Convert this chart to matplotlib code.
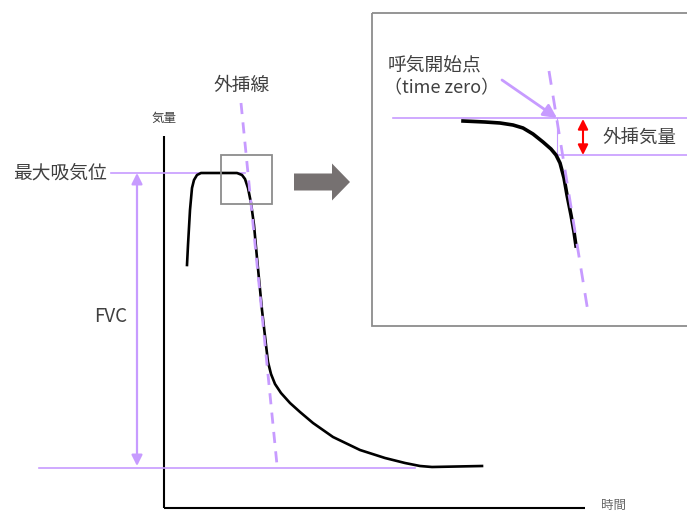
import matplotlib
matplotlib.use("Agg")
import matplotlib.pyplot as plt
from matplotlib.patches import Rectangle, FancyArrow

plt.rcParams['font.family'] = ['Noto Sans CJK JP', 'DejaVu Sans']

# Main spirogram curve (pixel coordinates)
curve_x = [187, 188, 190, 192, 194, 197, 201, 237, 242, 245, 248, 251, 254, 257, 262, 266, 268, 271, 275, 281, 290, 300, 313, 333, 360, 385, 405, 420, 432, 482]
curve_y = [265, 245, 210, 188, 180, 175, 173, 173, 175, 179, 188, 203, 225, 258, 310, 345, 362, 374, 384, 393, 403, 412, 423, 437, 450, 458, 463, 466, 467, 466]

# Zoomed inset curve
inset_x = [463, 485, 500, 513, 523, 533, 543, 551, 556, 560, 564, 567, 571, 574, 576]
inset_y = [121, 122, 123, 125, 128, 134, 142, 149, 155, 163, 178, 195, 215, 232, 246]

# Extrapolation lines (start, end)
extrap_main = ([241, 277], [103, 465])
extrap_inset = ([549, 588], [71, 312])

LAV = '#c79bff'
TXT = '#404040'

fig = plt.figure(figsize=(6.87, 5.13), dpi=100)
ax = fig.add_axes([0, 0, 1, 1])
ax.set_xlim(0, 687)
ax.set_ylim(513, 0)
ax.axis('off')

# axes of the diagram
ax.plot([164, 164], [136, 508], color='black', lw=1.5, solid_capstyle='butt')
ax.plot([164, 585], [508, 508], color='black', lw=1.5, solid_capstyle='butt')
ax.text(164, 118, '気量', fontsize=9, color=TXT, ha='center', va='center')
ax.text(613, 505, '時間', fontsize=9, color='#666666', ha='center', va='center')

# reference lines
ax.plot([111, 245], [173, 173], color=LAV, lw=1.2)
ax.plot([39, 415], [468, 468], color=LAV, lw=1.2)
ax.text(60, 173, '最大吸気位', fontsize=13.5, color=TXT, ha='center', va='center')

# FVC arrow
ax.annotate('', xy=(137, 173), xytext=(137, 466),
            arrowprops=dict(arrowstyle='<|-|>', color=LAV, lw=1.6,
                            mutation_scale=16, shrinkA=0, shrinkB=0))
ax.text(111, 316, 'FVC', fontsize=13.5, color=TXT, ha='center', va='center')

# curve
ax.plot(curve_x, curve_y, color='black', lw=1.9, solid_joinstyle='round', zorder=3)

# extrapolation dashed line (drawn over the curve)
ax.plot(extrap_main[0], extrap_main[1], color=LAV, lw=2, ls=(0, (4, 3)), zorder=4)
ax.text(242, 85, '外挿線', fontsize=13.5, color=TXT, ha='center', va='center')

# small gray box
ax.add_patch(Rectangle((221, 155), 51, 49, fill=False, edgecolor='#8c8c8c', lw=1.3, zorder=5))

# big gray arrow
ax.add_patch(FancyArrow(294, 182, 56, 0, width=17, head_width=37, head_length=18,
                        length_includes_head=True, color='#767171', lw=0))

# inset box
ax.add_patch(Rectangle((372, 13), 330, 313, fill=False, edgecolor='#8c8c8c', lw=1.3))
ax.plot([393, 687], [118, 118], color=LAV, lw=1.2)
ax.plot([557, 687], [155, 155], color=LAV, lw=1.2)
ax.plot([557, 557], [118, 155], color=LAV, lw=0.8)
ax.plot(inset_x, inset_y, color='black', lw=2.6, solid_joinstyle='round', zorder=3)
ax.plot(extrap_inset[0], extrap_inset[1], color=LAV, lw=2, ls=(0, (5, 4)), zorder=4)

ax.annotate('', xy=(557, 118), xytext=(502, 80),
            arrowprops=dict(arrowstyle='-|>', color=LAV, lw=2,
                            mutation_scale=20, shrinkA=0, shrinkB=0), zorder=5)
ax.annotate('', xy=(583, 119), xytext=(583, 155),
            arrowprops=dict(arrowstyle='<|-|>', color='#ff0000', lw=1.5,
                            mutation_scale=15, shrinkA=0, shrinkB=0))
ax.text(388, 65, '呼気開始点', fontsize=13.5, color=TXT, ha='left', va='center')
ax.text(384, 88, '（time zero）', fontsize=13, color=TXT, ha='left', va='center')
ax.text(603, 138, '外挿気量', fontsize=13.3, color=TXT, ha='left', va='center')

# partly visible glyph at the top-left edge, as in the reference
ax.text(30, -1, 'g', fontsize=13.5, color=TXT, ha='center', va='bottom')

fig.savefig('out.png', dpi=100)
